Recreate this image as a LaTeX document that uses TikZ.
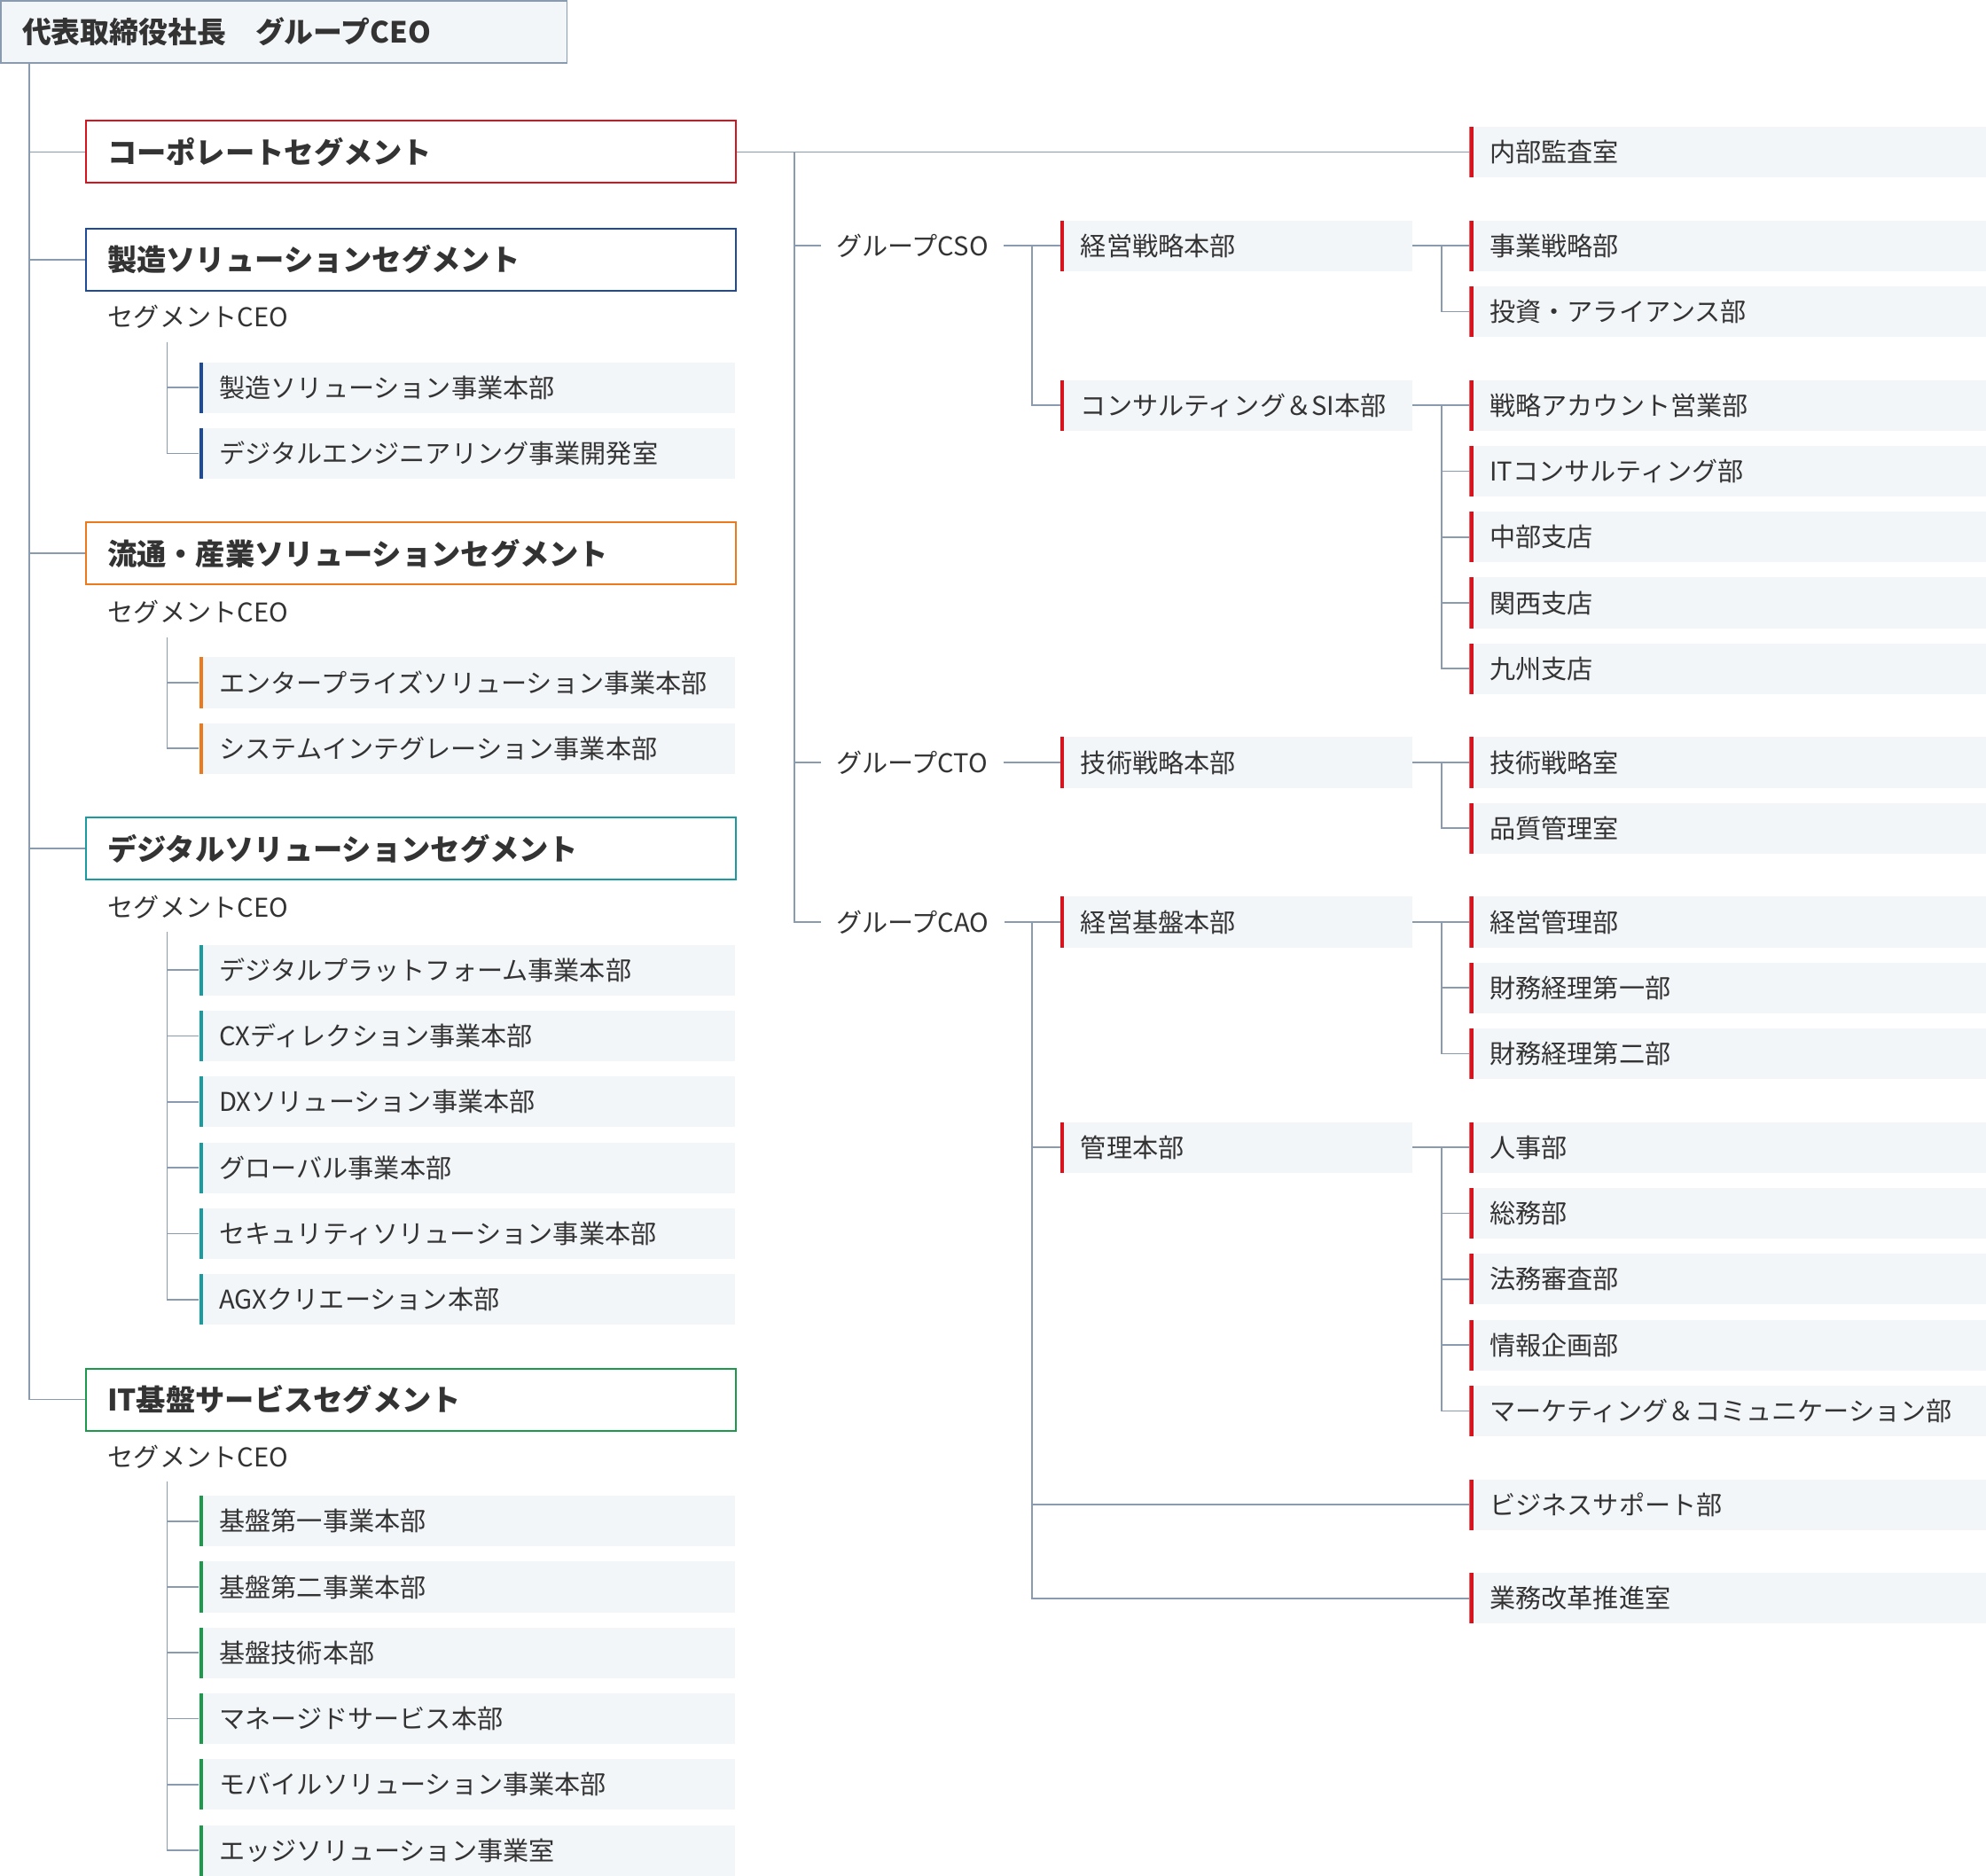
\documentclass[tikz,border=0pt]{standalone}
\usepackage{fontspec}
\setmainfont{Noto Sans CJK JP}
\begin{document}
\definecolor{lg}{HTML}{8A9BB0}
\definecolor{bg}{HTML}{F3F6F9}
\definecolor{cr}{HTML}{D7141E}
\definecolor{cb}{HTML}{1E4A9A}
\definecolor{co}{HTML}{EC7A1C}
\definecolor{ct}{HTML}{1A9BA0}
\definecolor{cg}{HTML}{1A9A4A}
\definecolor{tx}{HTML}{333333}
\begin{tikzpicture}[x=1pt,y=-1pt,
  ln/.style={lg,line width=1.2pt},
  seg/.style={draw=#1,line width=1.4pt,fill=white,minimum width=513pt,minimum height=49pt,anchor=west,inner xsep=17pt,text width=479pt,font=\fontsize{23.3}{23}\selectfont\bfseries,text=tx},
  bar/.style={fill=bg,minimum height=40pt,anchor=west,inner xsep=16pt,font=\fontsize{20.4}{20}\selectfont,text=tx,path picture={\fill[#1](path picture bounding box.north west) rectangle ([xshift=3pt]path picture bounding box.south west);}},
  sb/.style={bar=#1,minimum width=423pt,text width=391pt},
  db/.style={bar=cr,minimum width=278pt,text width=246pt},
  rb/.style={bar=cr,minimum width=408pt,text width=376pt},
  lab/.style={anchor=west,font=\fontsize{20.4}{20}\selectfont,text=tx,inner sep=0pt}]
\useasboundingbox (0,0) rectangle (1568,1481);
\node[draw=lg,line width=1.2pt,fill=bg,minimum width=447pt,minimum height=49pt,anchor=north west,inner xsep=17pt,text width=413pt,font=\fontsize{23}{23}\selectfont\bfseries,text=tx] (top) at (0,0) {代表取締役社長　グループCEO};
% left segments
\coordinate (L0) at (23,49);
\node[seg=cr] (s1) at (67,120) {コーポレートセグメント};
\node[seg=cb] (s2) at (67,205) {製造ソリューションセグメント};
\node[seg=co] (s3) at (67,437) {流通・産業ソリューションセグメント};
\node[seg=ct] (s4) at (67,670) {デジタルソリューションセグメント};
\node[seg=cg] (s5) at (67,1105) {IT基盤サービスセグメント};
\draw[ln] (L0) |- (s5.west);
\foreach \s/\y in {s1/120,s2/205,s3/437,s4/670}{\draw[ln] (23,\y) -- (\s.west);}
\foreach \n/\y in {c2/250,c3/483,c4/716,c5/1150}{\node[lab] (\n) at (85,\y) {セグメントCEO};}
% sub items
\newcommand\subitems[5]{% color, start y, first y, prefix, list
  \coordinate (#4v) at (132,#2);
  \foreach \t [count=\i] in {#5}{
    \pgfmathsetmacro\yy{#3+(\i-1)*52}
    \node[sb=#1] (#4\i) at (157,\yy) {\t};
    \draw[ln] (#4v) |- (#4\i.west);}}
\subitems{cb}{270}{306}{m}{製造ソリューション事業本部,デジタルエンジニアリング事業開発室}
\subitems{co}{503}{539}{d}{エンタープライズソリューション事業本部,システムインテグレーション事業本部}
\subitems{ct}{736}{766}{g}{デジタルプラットフォーム事業本部,CXディレクション事業本部,DXソリューション事業本部,グローバル事業本部,セキュリティソリューション事業本部,AGXクリエーション本部}
\subitems{cg}{1170}{1201}{i}{基盤第一事業本部,基盤第二事業本部,基盤技術本部,マネージドサービス本部,モバイルソリューション事業本部,エッジソリューション事業室}
% right side
\node[rb] (audit) at (1160,120) {内部監査室};
\draw[ln] (s1.east) -- (audit.west);
\coordinate (R0) at (627,120);
\node[lab] (cso) at (660,194) {グループCSO};
\node[lab] (cto) at (660,602) {グループCTO};
\node[lab] (cao) at (660,728) {グループCAO};
\draw[ln] (R0) |- ([xshift=-12pt]cao.west);
\draw[ln] (627,194) -- ([xshift=-12pt]cso.west);
\draw[ln] (627,602) -- ([xshift=-12pt]cto.west);
\node[db] (d1) at (837,194) {経営戦略本部};
\node[db] (d2) at (837,320) {コンサルティング＆SI本部};
\node[db] (d3) at (837,602) {技術戦略本部};
\node[db] (d4) at (837,728) {経営基盤本部};
\node[db] (d5) at (837,906) {管理本部};
\draw[ln] ([xshift=12pt]cso.east) -- (d1.west);
\draw[ln] ([xshift=12pt]cto.east) -- (d3.west);
\draw[ln] ([xshift=12pt]cao.east) -- (d4.west);
\draw[ln] (815,194) |- (d2.west);
\node[rb] (bs) at (1160,1188) {ビジネスサポート部};
\node[rb] (bk) at (1160,1262) {業務改革推進室};
\draw[ln] (815,728) |- (bk.west);
\draw[ln] (815,906) -- (d5.west);
\draw[ln] (815,1188) -- (bs.west);
\newcommand\ritems[4]{% dept node, y, prefix, list
  \draw[ln] (#1.east) -- (1138,#2);
  \foreach \t [count=\i] in {#4}{
    \pgfmathsetmacro\yy{#2+(\i-1)*52}
    \node[rb] (#3\i) at (1160,\yy) {\t};
    \draw[ln] (1138,#2) |- (#3\i.west);}}
\ritems{d1}{194}{ra}{事業戦略部,投資・アライアンス部}
\ritems{d2}{320}{rb}{戦略アカウント営業部,ITコンサルティング部,中部支店,関西支店,九州支店}
\ritems{d3}{602}{rc}{技術戦略室,品質管理室}
\ritems{d4}{728}{rd}{経営管理部,財務経理第一部,財務経理第二部}
\ritems{d5}{906}{re}{人事部,総務部,法務審査部,情報企画部,マーケティング＆コミュニケーション部}
\end{tikzpicture}
\end{document}
